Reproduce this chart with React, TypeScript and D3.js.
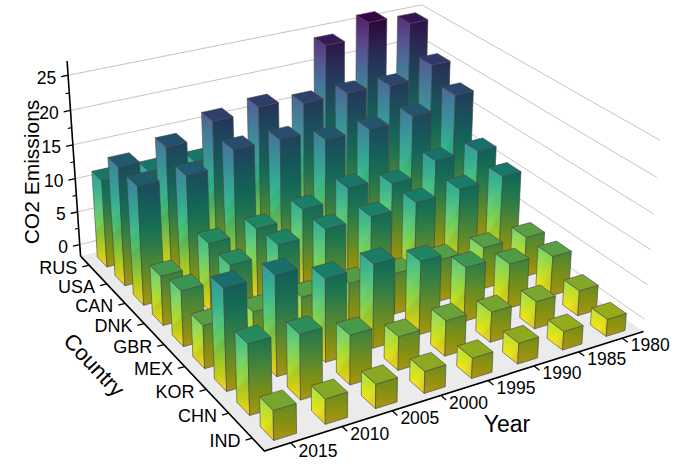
import React, { useEffect } from 'react';
import * as d3 from 'd3';

// ---------- data ----------
const countries = ['RUS', 'USA', 'CAN', 'DNK', 'GBR', 'MEX', 'KOR', 'CHN', 'IND'];
const years = [1980, 1985, 1990, 1995, 2000, 2005, 2010, 2015];
const RUS = [24.6, 26.0, 23.9, 11.0, 10.6, 10.9, 11.0, 11.2];
const USA = [20.4, 18.7, 19.0, 18.9, 19.8, 19.2, 17.0, 15.7];
const CAN = [18.1, 16.4, 15.9, 15.9, 17.4, 17.5, 15.4, 15.5];
const DNK = [12.0, 12.1, 10.3, 11.3, 9.8, 8.7, 8.3, 5.4];
const GBR = [10.7, 10.4, 10.1, 9.7, 9.6, 9.1, 8.0, 6.2];
const MEX = [4.2, 4.4, 4.4, 4.2, 4.6, 4.5, 4.3, 4.3];
const KOR = [4.1, 4.8, 6.1, 8.8, 10.2, 10.0, 12.3, 12.4];
const CHN = [1.9, 2.2, 2.6, 3.3, 3.0, 5.2, 7.3, 8.0];
const IND = [0.7, 0.9, 1.2, 1.1, 1.3, 1.6, 1.7, 2.3];
const zTicks = [0, 5, 10, 15, 20, 25];
const zMinorTicks = [2.5, 7.5, 12.5, 17.5, 22.5];

const seriesList = [RUS, USA, CAN, DNK, GBR, MEX, KOR, CHN, IND];

// ---------- 3D frame ----------
const Z_MIN = -1.8;
const Z_MAX = 27;
const Z_COLOR_TOP = 26.5;
const NX = years.length; // 8
const NY = countries.length; // 9

// world X: year band (2015 nearest), world Y: country band (IND nearest)
const xBand = d3.scaleBand<number>().domain([...years].reverse()).range([0, NX]);
const yBand = d3.scaleBand<string>().domain([...countries].reverse()).range([0, NY]);

// camera calibration: world (X, Y, Z) -> screen (u, v)
const CALIB: number[][] = [
  [0, 0, Z_MIN, 264, 451],
  [0, 9, Z_MIN, 82, 257],
  [8, 0, Z_MIN, 643, 332],
  [0, 9, 0, 78.5, 245],
  [8, 0, 0, 645, 318],
  [0, 9, 25, 68, 75.5],
  [8, 0, 25, 660, 140],
  [8, 9, 25, 422, 5],
  [0.5, 0, Z_MIN, 291, 442.5],
  [1.5, 0, Z_MIN, 343, 426.1],
  [2.5, 0, Z_MIN, 393, 410.5],
  [3.5, 0, Z_MIN, 441, 395.4],
  [4.5, 0, Z_MIN, 488, 380.7],
  [5.5, 0, Z_MIN, 533, 366.5],
  [6.5, 0, Z_MIN, 578, 352.4],
  [7.5, 0, Z_MIN, 623, 338.3],
  [0, 0.5, Z_MIN, 252.1, 438.5],
  [0, 1.5, Z_MIN, 228.7, 413.5],
  [0, 2.5, Z_MIN, 205.2, 388.5],
  [0, 3.5, Z_MIN, 184.6, 366.5],
  [0, 4.5, Z_MIN, 164.9, 345.5],
  [0, 5.5, Z_MIN, 146.2, 325.5],
  [0, 6.5, Z_MIN, 123.7, 301.5],
  [0, 7.5, Z_MIN, 105, 281.5],
  [0, 8.5, Z_MIN, 90, 265.5],
];

function solveDLT(pts: number[][]): number[] {
  const N = 11;
  const M: number[][] = Array.from({ length: N }, () => new Array(N).fill(0));
  const b: number[] = new Array(N).fill(0);
  const add = (row: number[], r: number) => {
    for (let i = 0; i < N; i++) {
      b[i] += row[i] * r;
      for (let j = 0; j < N; j++) M[i][j] += row[i] * row[j];
    }
  };
  for (const [X, Y, Z, u, v] of pts) {
    const x = X / 8, y = Y / 9, z = Z / 25;
    const uu = (u - 350) / 300, vv = (v - 236) / 300;
    add([x, y, z, 1, 0, 0, 0, 0, -uu * x, -uu * y, -uu * z], uu);
    add([0, 0, 0, 0, x, y, z, 1, -vv * x, -vv * y, -vv * z], vv);
  }
  for (let i = 0; i < N; i++) {
    let p = i;
    for (let r = i + 1; r < N; r++) if (Math.abs(M[r][i]) > Math.abs(M[p][i])) p = r;
    [M[i], M[p]] = [M[p], M[i]];
    [b[i], b[p]] = [b[p], b[i]];
    for (let r = 0; r < N; r++) {
      if (r === i) continue;
      const f = M[r][i] / M[i][i];
      if (f === 0) continue;
      for (let k = i; k < N; k++) M[r][k] -= f * M[i][k];
      b[r] -= f * b[i];
    }
  }
  return b.map((v, i) => v / M[i][i]);
}

const CAM = solveDLT(CALIB);
function proj(X: number, Y: number, Z: number): [number, number] {
  const x = X / 8, y = Y / 9, z = Z / 25;
  const p = CAM;
  const w = p[8] * x + p[9] * y + p[10] * z + 1;
  return [
    ((p[0] * x + p[1] * y + p[2] * z + p[3]) / w) * 300 + 350,
    ((p[4] * x + p[5] * y + p[6] * z + p[7]) / w) * 300 + 236,
  ];
}

const colorOf = (z: number) => {
  const t = Math.max(0, Math.min(1, (z - Z_MIN) / (Z_COLOR_TOP - Z_MIN)));
  return d3.interpolateViridis(1 - t);
};

const pts = (a: [number, number][]) => a.map((p) => `${p[0].toFixed(2)},${p[1].toFixed(2)}`).join(' ');
const dirOf = (a: [number, number], b: [number, number], len: number): [number, number] => {
  const dx = b[0] - a[0], dy = b[1] - a[1];
  const n = Math.hypot(dx, dy) || 1;
  return [a[0] + (dx / n) * len, a[1] + (dy / n) * len];
};

const FONT = '"Liberation Sans", Arial, Helvetica, sans-serif';
const HX = 0.22;
const HY = 0.275;

export default function App() {
  useEffect(() => {
    document.body.style.margin = '0';
  }, []);

  type Bar = { key: string; X: number; Y: number; v: number };
  const bars: Bar[] = [];
  countries.forEach((c, ci) => {
    years.forEach((yr, yi) => {
      bars.push({
        key: `${c}-${yr}`,
        X: (xBand(yr) as number) + xBand.bandwidth() / 2,
        Y: (yBand(c) as number) + yBand.bandwidth() / 2,
        v: seriesList[ci][yi],
      });
    });
  });
  bars.sort((a, b) => b.X + b.Y - (a.X + a.Y));

  const gradients: JSX.Element[] = [];
  const barEls: JSX.Element[] = [];
  const NS = 8;
  bars.forEach((bar, i) => {
    const X0 = bar.X - HX, X1 = bar.X + HX, Y0 = bar.Y - HY, Y1 = bar.Y + HY;
    const zb = Z_MIN, zt = bar.v;
    const mkGrad = (id: string, a: [number, number], b: [number, number], shade: (c: string) => string) => {
      const stops = d3.range(NS + 1).map((k) => {
        const z = zb + ((zt - zb) * k) / NS;
        return <stop key={k} offset={`${(k / NS) * 100}%`} stopColor={shade(colorOf(z))} />;
      });
      gradients.push(
        <linearGradient key={id} id={id} gradientUnits="userSpaceOnUse" x1={a[0]} y1={a[1]} x2={b[0]} y2={b[1]}>
          {stops}
        </linearGradient>
      );
    };
    const leftId = `gl${i}`, rightId = `gr${i}`, sheenId = `gs${i}`;
    const ym = (Y0 + Y1) / 2, xm = (X0 + X1) / 2;
    const zMid = (zb + zt) / 2;
    mkGrad(leftId, proj(X0, ym, zb), proj(X0, ym, zt), (c) => d3.rgb(c).formatHex());
    mkGrad(rightId, proj(xm, Y0, zb), proj(xm, Y0, zt), (c) => d3.rgb(c).darker(1.25).formatHex());
    const sA = proj(X0, Y1, zMid), sB = proj(X0, Y0, zMid);
    gradients.push(
      <linearGradient key={sheenId} id={sheenId} gradientUnits="userSpaceOnUse" x1={sA[0]} y1={sA[1]} x2={sB[0]} y2={sB[1]}>
        <stop offset="0%" stopColor="#ffffff" stopOpacity={0.1} />
        <stop offset="40%" stopColor="#ffffff" stopOpacity={0} />
        <stop offset="100%" stopColor="#000000" stopOpacity={0.1} />
      </linearGradient>
    );
    const left = [proj(X0, Y0, zb), proj(X0, Y1, zb), proj(X0, Y1, zt), proj(X0, Y0, zt)];
    const right = [proj(X0, Y0, zb), proj(X1, Y0, zb), proj(X1, Y0, zt), proj(X0, Y0, zt)];
    const top = [proj(X0, Y0, zt), proj(X1, Y0, zt), proj(X1, Y1, zt), proj(X0, Y1, zt)];
    const topColor = d3.rgb(colorOf(zt)).darker(0.75).formatHex();
    barEls.push(
      <g key={bar.key} stroke="#454545" strokeWidth={0.6} strokeLinejoin="round">
        <polygon points={pts(left)} fill={`url(#${leftId})`} />
        <polygon points={pts(left)} fill={`url(#${sheenId})`} stroke="none" />
        <polygon points={pts(right)} fill={`url(#${rightId})`} />
        <polygon points={pts(top)} fill={topColor} />
      </g>
    );
  });

  const floor = [proj(0, 0, Z_MIN), proj(NX, 0, Z_MIN), proj(NX, NY, Z_MIN), proj(0, NY, Z_MIN)];

  const grid = zTicks.map((z) => {
    const a = proj(0, NY, z), b = proj(NX, NY, z), c = proj(NX, 0, z);
    return <polyline key={z} points={pts([a, b, c])} fill="none" stroke="#c4c4c4" strokeWidth={1} />;
  });

  // z axis
  const zAxisA = proj(0, NY, Z_MIN), zAxisB = proj(0, NY, Z_MAX);
  const zTickEls = zTicks.map((z) => {
    const a = proj(0, NY, z);
    const e = dirOf(a, proj(-1, NY, z), 7);
    return (
      <g key={`zt${z}`}>
        <line x1={a[0]} y1={a[1]} x2={e[0]} y2={e[1]} stroke="#000" strokeWidth={1.3} />
        <text x={e[0] - 5} y={e[1] + 1} textAnchor="end" dominantBaseline="central" fontSize={17.5} fontFamily={FONT}>
          {z}
        </text>
      </g>
    );
  });
  const zMinorEls = zMinorTicks.map((z) => {
    const a = proj(0, NY, z);
    const e = dirOf(a, proj(-1, NY, z), 4);
    return <line key={`zm${z}`} x1={a[0]} y1={a[1]} x2={e[0]} y2={e[1]} stroke="#000" strokeWidth={1.1} />;
  });

  // country axis (X = 0)
  const cTickEls = countries.map((c) => {
    const Y = (yBand(c) as number) + yBand.bandwidth() / 2;
    const a = proj(0, Y, Z_MIN);
    const e = dirOf(a, proj(-1, Y, Z_MIN), 7);
    return (
      <g key={`ct${c}`}>
        <line x1={a[0]} y1={a[1]} x2={e[0]} y2={e[1]} stroke="#000" strokeWidth={1.3} />
        <text x={e[0] - 5} y={e[1] + 1} textAnchor="end" dominantBaseline="central" fontSize={18} fontFamily={FONT}>
          {c}
        </text>
      </g>
    );
  });

  // year axis (Y = 0)
  const yTickEls = years.map((yr) => {
    const X = (xBand(yr) as number) + xBand.bandwidth() / 2;
    const a = proj(X, 0, Z_MIN);
    const e = dirOf(a, proj(X, -1, Z_MIN), 7);
    return (
      <g key={`yt${yr}`}>
        <line x1={a[0]} y1={a[1]} x2={e[0]} y2={e[1]} stroke="#000" strokeWidth={1.3} />
        <text x={e[0] + 3} y={e[1] + 3} textAnchor="start" dominantBaseline="central" fontSize={17.5} fontFamily={FONT}>
          {yr}
        </text>
      </g>
    );
  });

  const F = proj(0, 0, Z_MIN), L = proj(0, NY, Z_MIN), R = proj(NX, 0, Z_MIN);
  const cAng = (Math.atan2(F[1] - L[1], F[0] - L[0]) * 180) / Math.PI;

  return (
    <svg width={700} height={472} style={{ position: 'fixed', left: 0, top: 0, background: '#fff' }}>
      <defs>{gradients}</defs>
      <rect width={700} height={472} fill="#fff" />
      <polygon points={pts(floor)} fill="#ebebeb" />
      {grid}
      {barEls}
      <line x1={zAxisA[0]} y1={zAxisA[1]} x2={zAxisB[0]} y2={zAxisB[1]} stroke="#000" strokeWidth={1.6} />
      <polyline points={pts([L, F, R])} fill="none" stroke="#000" strokeWidth={1.6} />
      {zMinorEls}
      {zTickEls}
      {cTickEls}
      {yTickEls}
      <text transform="translate(31,172) rotate(-90)" textAnchor="middle" dominantBaseline="central" fontSize={21} fontFamily={FONT}>
        CO2 Emissions
      </text>
      <text transform={`translate(94,365) rotate(${cAng.toFixed(1)})`} textAnchor="middle" dominantBaseline="central" fontSize={22} fontFamily={FONT}>
        Country
      </text>
      <text x={507} y={424} textAnchor="middle" dominantBaseline="central" fontSize={23} fontFamily={FONT}>
        Year
      </text>
    </svg>
  );
}
